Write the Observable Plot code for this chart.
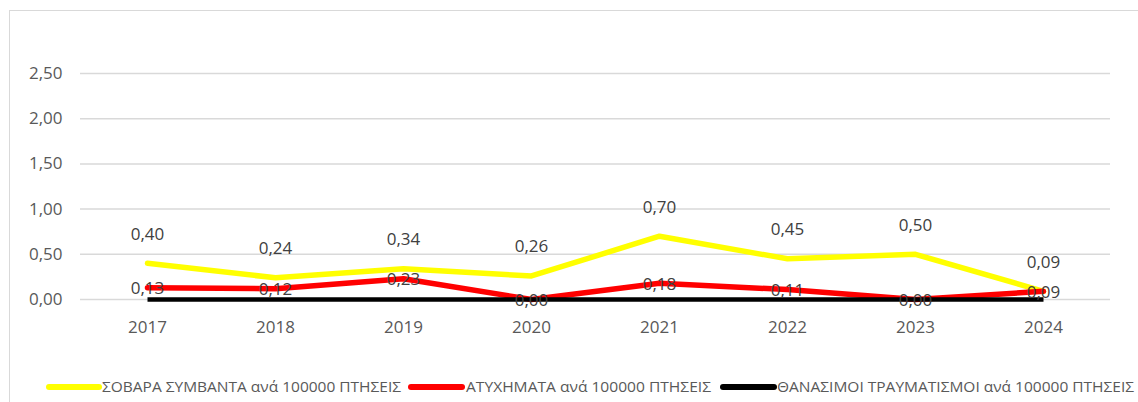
<!DOCTYPE html>
<html>
<head>
<meta charset="utf-8">
<script src="https://cdn.jsdelivr.net/npm/d3@7"></script>
<script src="https://cdn.jsdelivr.net/npm/@observablehq/plot@0.6"></script>
<style>
  html, body { margin: 0; padding: 0; background: #fff; width: 1138px; height: 402px; overflow: hidden; }
  #wrap { position: relative; width: 1138px; height: 402px; }
  #frame { position: absolute; left: 9px; top: 10px; width: 1200px; height: 500px; border: 1.5px solid #d9d9d9; box-sizing: border-box; z-index: 5; pointer-events: none; }
  #chart { position: absolute; left: 0; top: 0; }
  #legend { position: absolute; left: 0; top: 372px; }
</style>
</head>
<body>
<div id="wrap">
  <div id="chart"></div>
  <div id="legend"></div>
  <div id="frame"></div>
</div>
<script>
const years = ["2017", "2018", "2019", "2020", "2021", "2022", "2023", "2024"];
const seriousIncidents = [0.40, 0.24, 0.34, 0.26, 0.70, 0.45, 0.50, 0.09];
const accidents = [0.13, 0.12, 0.23, 0.00, 0.18, 0.11, 0.00, 0.09];
const fatalities = [0.00, 0.00, 0.00, 0.00, 0.00, 0.00, 0.00, 0.00];
const seriesNames = [
  "ΣΟΒΑΡΑ ΣΥΜΒΑΝΤΑ ανά 100000 ΠΤΗΣΕΙΣ",
  "ΑΤΥΧΗΜΑΤΑ ανά 100000 ΠΤΗΣΕΙΣ",
  "ΘΑΝΑΣΙΜΟΙ ΤΡΑΥΜΑΤΙΣΜΟΙ ανά 100000 ΠΤΗΣΕΙΣ"
];
const seriesColors = ["#ffff00", "#ff0000", "#000000"];
const yTicks = [0, 0.5, 1, 1.5, 2, 2.5];

const fmt = d => d.toFixed(2).replace(".", ",");
const table = (vals) => years.map((y, i) => ({year: y, value: vals[i]}));
const yellowData = table(seriousIncidents);
const redData = table(accidents);
const blackData = table(fatalities);

const chart = Plot.plot({
  width: 1138,
  height: 340,
  marginLeft: 80,
  marginRight: 28,
  marginTop: 73,
  marginBottom: 41,
  style: {background: "transparent", fontFamily: "'Open Sans', sans-serif", fontSize: "17px", color: "#595959"},
  x: {type: "point", domain: years, padding: 0.5, label: null},
  y: {domain: [0, 2.5], label: null},
  marks: [
    Plot.ruleY(yTicks, {stroke: "#d9d9d9", strokeWidth: 1.5}),
    Plot.axisY(yTicks, {tickFormat: fmt, tickSize: 0, tickPadding: 18, label: null, fill: "#595959", fontSize: 17}),
    Plot.axisX({tickSize: 0, tickPadding: 21, label: null, fill: "#595959", fontSize: 17}),
    Plot.line(yellowData, {x: "year", y: "value", stroke: seriesColors[0], strokeWidth: 5.5, strokeLinejoin: "round", strokeLinecap: "round"}),
    Plot.line(redData, {x: "year", y: "value", stroke: seriesColors[1], strokeWidth: 5.5, strokeLinejoin: "round", strokeLinecap: "round"}),
    Plot.line(blackData, {x: "year", y: "value", stroke: seriesColors[2], strokeWidth: 4.5, strokeLinecap: "butt"}),
    Plot.text(yellowData, {x: "year", y: "value", text: d => fmt(d.value), dy: -29, fill: "#404040", fontSize: 17}),
    Plot.text(redData, {x: "year", y: "value", text: d => fmt(d.value), dy: 1, fill: "#404040", fontSize: 17})
  ]
});
document.getElementById("chart").appendChild(chart);

// Legend
const legendItems = [
  {x1: 49, x2: 99, tx: 102, tl: 299},
  {x1: 411, x2: 462, tx: 466, tl: 245},
  {x1: 723, x2: 774, tx: 777, tl: 357}
];
const lsvg = d3.create("svg").attr("width", 1138).attr("height", 30)
  .style("font-family", "'Open Sans', sans-serif");
legendItems.forEach((it, i) => {
  lsvg.append("line").attr("x1", it.x1).attr("x2", it.x2).attr("y1", 15).attr("y2", 15)
    .attr("stroke", seriesColors[i]).attr("stroke-width", 6).attr("stroke-linecap", "round");
  lsvg.append("text").attr("x", it.tx).attr("y", 15).attr("dy", "0.35em")
    .attr("font-size", 14.5).attr("fill", "#595959")
    .attr("textLength", it.tl).attr("lengthAdjust", "spacingAndGlyphs")
    .text(seriesNames[i]);
});
document.getElementById("legend").appendChild(lsvg.node());
</script>
</body>
</html>
